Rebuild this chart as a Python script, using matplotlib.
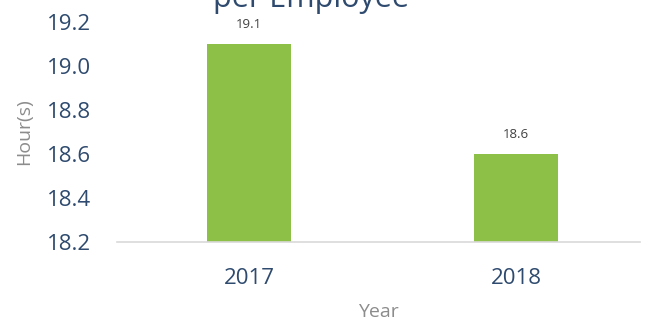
import matplotlib
matplotlib.use("Agg")
import matplotlib.pyplot as plt

years = ["2017", "2018"]
hours = [19.1, 18.6]
y_ticks = [18.2, 18.4, 18.6, 18.8, 19.0, 19.2]

navy = "#2E4A6E"
grey = "#8C8C8C"
green = "#8DC046"

plt.rcParams['font.family'] = ['Open Sans', 'DejaVu Sans']

fig = plt.figure(figsize=(6.56, 3.25), dpi=100)
ax = fig.add_axes([117 / 656, 1 - 242 / 325, (640 - 117) / 656, 220 / 325])

x = list(range(len(years)))
ax.bar(x, hours, width=0.315, color=green, zorder=2)
for xi, h in zip(x, hours):
    ax.annotate(f"{h:.1f}", (xi, h), xytext=(0, 9), textcoords="offset points",
                ha="center", va="bottom", fontsize=9.5, color="#404040")

ax.set_xlim(-0.494, 1.464)
ax.set_ylim(18.2, 19.2)
ax.set_yticks(y_ticks)
ax.set_yticklabels([f"{t:.1f}" for t in y_ticks])
ax.set_xticks(x)
ax.set_xticklabels(years)
ax.tick_params(axis="both", length=0, labelsize=16, labelcolor=navy)
ax.tick_params(axis="x", pad=19)
ax.tick_params(axis="y", pad=19)

for side in ["top", "right", "left"]:
    ax.spines[side].set_visible(False)
ax.spines["bottom"].set_color("#D9D9D9")
ax.spines["bottom"].set_linewidth(1.2)

ax.set_xlabel("Year", fontsize=14, color=grey, labelpad=10)
ax.set_ylabel("Hour(s)", fontsize=14, color=grey)
# right edge of the rotated label sits just left of the tick labels
ax.yaxis.set_label_coords(-84 / 523, 0.5)

fig.text(311 / 656, 1 - 7 / 325, "Average Training Hours\nper Employee", ha="center",
         va="baseline", fontsize=22, color=navy, linespacing=1.1)

fig.savefig("out.png", dpi=100)
